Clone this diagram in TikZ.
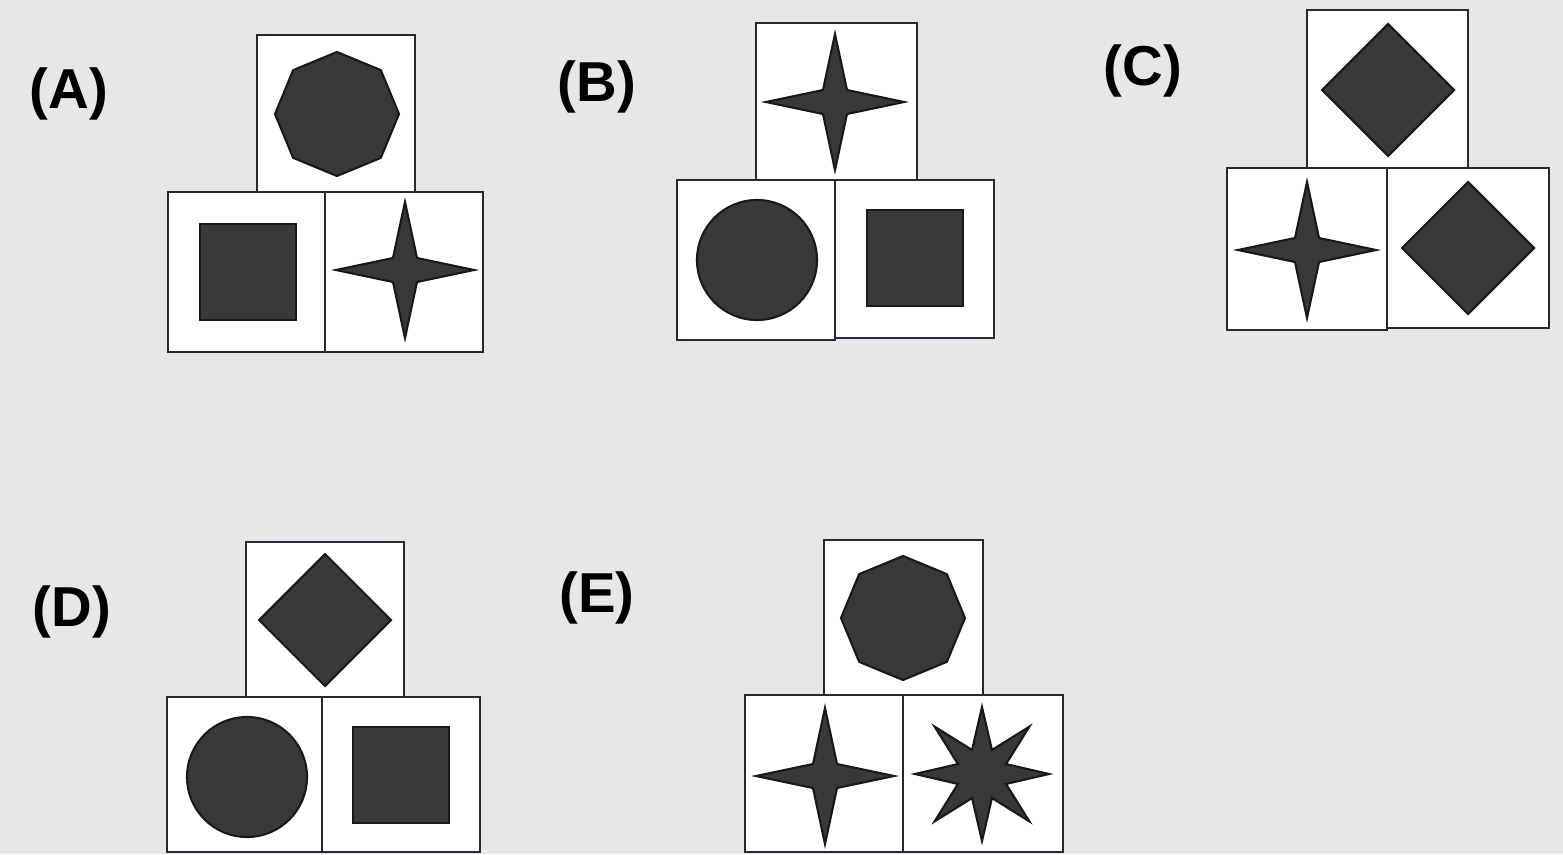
\documentclass[tikz,border=0pt]{standalone}
\usepackage{fontspec}
\setmainfont{Liberation Sans}
\definecolor{paper}{RGB}{233,230,231}
\definecolor{shapegray}{RGB}{58,57,58}
\definecolor{boxline}{RGB}{40,40,52}
\tikzset{
  shp/.style={fill=shapegray, draw=black!90, line width=0.6pt, line join=miter},
  cell/.style={fill=white, draw=boxline, line width=0.8pt},
  lbl/.style={font=\bfseries\fontsize{16}{18}\selectfont, inner sep=0pt},
  pics/oct/.style={code={\draw[shp] (90:62) -- (135:62) -- (180:62) -- (225:62) -- (270:62) -- (315:62) -- (0:62) -- (45:62) -- cycle;}},
  pics/diam/.style={code={\draw[shp] (0,-66) -- (66,0) -- (0,66) -- (-66,0) -- cycle;}},
  pics/sqr/.style={code={\draw[shp] (-48,-48) rectangle (48,48);}},
  pics/circ/.style={code={\draw[shp] (0,0) circle[radius=60];}},
  pics/fourstar/.style={code={\draw[shp] (69,0) -- (12,12) -- (0,68) -- (-12,12) -- (-69,0)
      -- (-12,-12) -- (0,-68) -- (12,-12) -- cycle;}},
  pics/eightstar/.style={code={\draw[shp] (0:67) -- (22.5:26) -- (45:67) -- (67.5:26) -- (90:67) -- (112.5:26) -- (135:67) -- (157.5:26)
      -- (180:67) -- (202.5:26) -- (225:67) -- (247.5:26) -- (270:67) -- (292.5:26) -- (315:67) -- (337.5:26) -- cycle;}},
}
\begin{document}
\begin{tikzpicture}[x=0.01cm, y=-0.01cm]
\fill[paper] (0,0) rectangle (1563,854);
\useasboundingbox (0,0) rectangle (1563,854);
% (A)
\node[lbl] (labA) at (69,94) {(A)};
\draw[cell] (257,35) rectangle (415,192);
\draw[cell] (168,192) rectangle (325,352);
\draw[cell] (325,192) rectangle (483,352);
\pic at (337,114) {oct};
\pic at (248,272) {sqr};
\pic at (405,270) {fourstar};
% (B)
\node[lbl] (labB) at (597,87) {(B)};
\draw[cell] (756,23) rectangle (917,180);
\draw[cell] (677,180) rectangle (835,340);
\draw[cell] (835,180) rectangle (994,338);
\pic at (835,102) {fourstar};
\pic at (757,260) {circ};
\pic at (915,258) {sqr};
% (C)
\node[lbl] (labC) at (1143,71) {(C)};
\draw[cell] (1307,10) rectangle (1468,168);
\draw[cell] (1227,168) rectangle (1387,330);
\draw[cell] (1387,168) rectangle (1549,328);
\pic at (1388,90) {diam};
\pic at (1307,250) {fourstar};
\pic at (1468,248) {diam};
% (D)
\node[lbl] (labD) at (72,612) {(D)};
\draw[cell] (246,542) rectangle (404,697);
\draw[cell] (167,697) rectangle (322,852);
\draw[cell] (322,697) rectangle (480,852);
\pic at (325,620) {diam};
\pic at (247,777) {circ};
\pic at (401,775) {sqr};
% (E)
\node[lbl] (labE) at (597,598) {(E)};
\draw[cell] (824,540) rectangle (983,695);
\draw[cell] (745,695) rectangle (903,852);
\draw[cell] (903,695) rectangle (1063,852);
\pic at (903,618) {oct};
\pic at (825,776) {fourstar};
\pic at (982,774) {eightstar};
\end{tikzpicture}
\end{document}
